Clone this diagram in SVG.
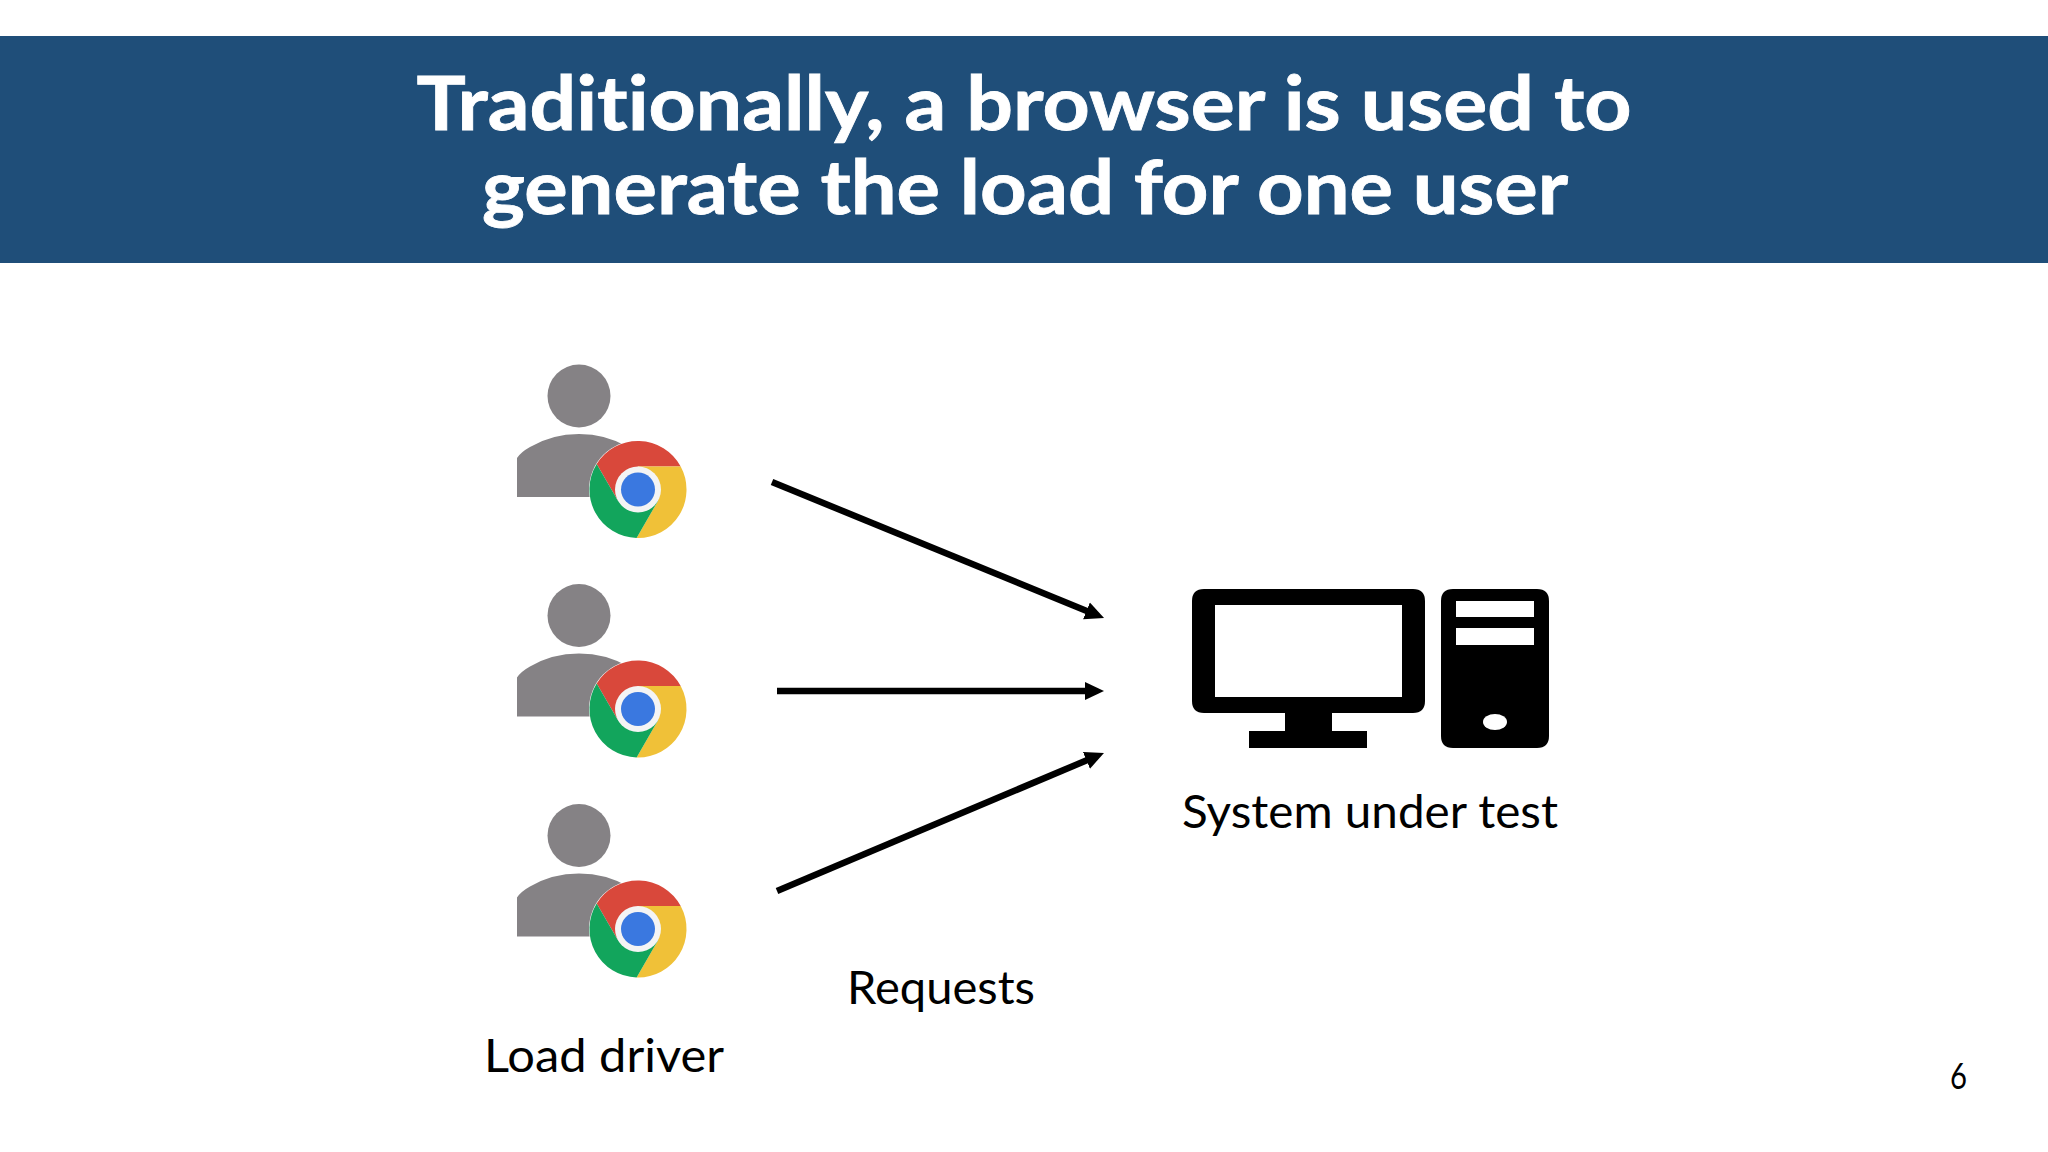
<svg xmlns="http://www.w3.org/2000/svg" xmlns:xlink="http://www.w3.org/1999/xlink" width="2048" height="1152" viewBox="0 0 2048 1152">
<style>
text{font-family:"Lato","Noto Sans","Liberation Sans",sans-serif;fill:#000;font-variant-ligatures:none}
.title{font-size:74px;font-weight:700;fill:#fff;text-anchor:middle;stroke:#fff;stroke-width:0.8}
.label{font-size:47px}
.conn{stroke:#000;stroke-width:6.5;fill:none;marker-end:url(#head)}
.hole{fill:#fff}
</style>
<defs>
<marker id="head" markerUnits="userSpaceOnUse" markerWidth="20" markerHeight="20" refX="1" refY="10" orient="auto" viewBox="0 0 20 20"><path d="M0,1 L19,10 L0,19 Z" fill="#000"/></marker>
<g id="user-chrome">
<circle cx="579" cy="396" r="31.5" fill="#858285"/>
<path d="M517,497 V458 Q521,452 530,447 Q552,434 579,434 Q606,434 628,447 L645,497 Z" fill="#858285"/>
<g transform="translate(638 489.5)">
<circle r="49" fill="#fff"/>
<path d="M-41.3,-25.5 A48.5,48.5 0 0 1 42.7,-23 L0,-23 L-19.9,11.5 Z" fill="#d9483b"/>
<path d="M42.7,-23 A48.5,48.5 0 0 1 -1.4,48.5 L19.9,11.5 L0,-23 Z" fill="#f0c138"/>
<path d="M-1.4,48.5 A48.5,48.5 0 0 1 -41.3,-25.5 L-19.9,11.5 L19.9,11.5 Z" fill="#12a55c"/>
<circle r="23" fill="#f4f4f4"/>
<circle r="17" fill="#3a78e0"/>
</g>
</g>
</defs>
<rect width="2048" height="1152" fill="#fff"/>
<g id="banner">
<rect x="0" y="36" width="2048" height="227" fill="#1f4e79"/>
<text class="title" x="1024" y="130" textLength="1215" lengthAdjust="spacingAndGlyphs">Traditionally, a browser is used to</text>
<text class="title" x="1025" y="214" textLength="1086" lengthAdjust="spacingAndGlyphs">generate the load for one user</text>
</g>
<g id="load-driver">
<g id="user-1"><use href="#user-chrome"/></g>
<g id="user-2"><use href="#user-chrome" y="219.5"/></g>
<g id="user-3"><use href="#user-chrome" y="439.5"/></g>
<text class="label" x="484" y="1072" textLength="240" lengthAdjust="spacingAndGlyphs">Load driver</text>
</g>
<g id="system-under-test">
<path fill-rule="evenodd" d="M1204,589 H1413 Q1425,589 1425,601 V701 Q1425,713 1413,713 H1332 V731 H1367 V748 H1249 V731 H1285 V713 H1204 Q1192,713 1192,701 V601 Q1192,589 1204,589 Z M1215,605 V697 H1402 V605 Z" fill="#000"/>
<path fill-rule="evenodd" d="M1453,589 H1537 Q1549,589 1549,601 V736 Q1549,748 1537,748 H1453 Q1441,748 1441,736 V601 Q1441,589 1453,589 Z M1456,601 V617 H1534 V601 Z M1456,628 V645 H1534 V628 Z" fill="#000"/>
<ellipse class="hole" cx="1495" cy="722" rx="12" ry="8"/>
<text class="label" x="1182" y="828" textLength="376" lengthAdjust="spacingAndGlyphs">System under test</text>
</g>
<g id="connectors">
<line class="conn" x1="772" y1="482" x2="1087.4" y2="611.2"/>
<line class="conn" x1="777" y1="691" x2="1086" y2="691"/>
<line class="conn" x1="777" y1="891" x2="1087.4" y2="760"/>
</g>
<text id="requests-label" class="label" x="847" y="1004" textLength="188" lengthAdjust="spacingAndGlyphs">Requests</text>
<text id="page-number" x="1950" y="1089" font-size="36" textLength="17" lengthAdjust="spacingAndGlyphs">6</text>
</svg>
